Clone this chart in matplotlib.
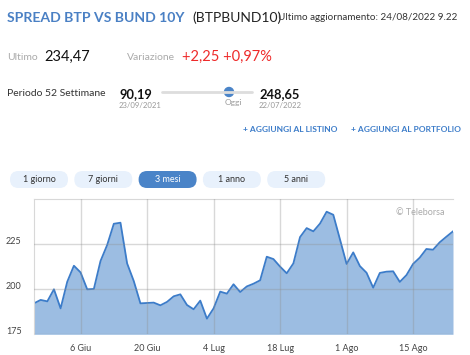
import numpy as np
import matplotlib
matplotlib.use("Agg")
import matplotlib.pyplot as plt
from matplotlib.patches import FancyBboxPatch, Circle
from matplotlib.transforms import ScaledTranslation

plt.rcParams['font.family'] = ['Lato', 'DejaVu Sans']

# spread BTP-Bund, ultimi 3 mesi (giorni lavorativi)
spread = [192.2, 194.1, 193.3, 200.0, 189.4, 204.2, 213.1, 209.4, 200.0, 200.2,
          215.7, 224.6, 236.4, 237.0, 214.4, 204.6, 192.2, 192.4, 192.6, 191.1,
          193.0, 196.1, 197.2, 191.3, 188.9, 193.7, 183.7, 189.4, 198.7, 197.6,
          202.8, 198.5, 201.6, 203.1, 205.0, 218.1, 216.8, 212.6, 208.9, 214.4,
          229.0, 234.0, 232.2, 236.5, 243.1, 241.4, 227.8, 214.1, 220.5, 212.9,
          209.2, 200.9, 209.1, 209.8, 210.0, 204.1, 207.9, 214.1, 217.6, 222.4,
          222.0, 226.1, 229.2, 232.2]
tick_pos = [7, 17, 27, 37, 47, 57]
tick_lab = ['6 Giu', '20 Giu', '4 Lug', '18 Lug', '1 Ago', '15 Ago']
y_ticks = [175, 200, 225]
periodi = ['1 giorno', '7 giorni', '3 mesi', '1 anno', '5 anni']
periodo_sel = '3 mesi'

blu = '#3c7cc9'
fig = plt.figure(figsize=(4.7, 3.55), dpi=100)

# ---- intestazione (coordinate in pixel) ----
hd = fig.add_axes([0, 0, 1, 1])
hd.set_xlim(0, 470)
hd.set_ylim(355, 0)
hd.axis('off')

hd.text(7, 18, 'SPREAD BTP VS BUND 10Y', color='#4a80c4', fontsize=10.1,
        fontweight='bold', va='center')
hd.text(192, 18, '(BTPBUND10)', color='#222222', fontsize=10, va='center')
hd.text(278, 17, 'Ultimo aggiornamento: 24/08/2022 9.22', color='#333333',
        fontsize=7.1, va='center')

hd.text(7, 58, 'Ultimo', color='#aaaaaa', fontsize=7.5, va='center')
hd.text(44, 57, '234,47', color='#111111', fontsize=10.5, va='center')
hd.text(127, 58, 'Variazione', color='#aaaaaa', fontsize=7.5, va='center')
hd.text(182, 57, '+2,25 +0,97%', color='#ee2a2a', fontsize=10.5, va='center')

hd.text(7, 93, 'Periodo 52 Settimane', color='#333333', fontsize=7.5, va='center')
hd.text(119, 94, '90,19', color='#111111', fontsize=9.3, fontweight='bold', va='center')
hd.text(119, 105, '23/09/2021', color='#999999', fontsize=5.6, va='center')
hd.plot([162, 252], [92, 92], color='#dddddd', lw=2, solid_capstyle='round')
hd.add_patch(Circle((229, 92), 4.5, color='#4a84c8'))
hd.text(233, 102, 'Oggi', color='#999999', fontsize=6, va='center', ha='center')
hd.text(259, 94, '248,65', color='#111111', fontsize=9.3, fontweight='bold', va='center')
hd.text(259, 106, '22/07/2022', color='#999999', fontsize=5.6, va='center')

hd.text(243, 130, '+ AGGIUNGI AL LISTINO', color=blu, fontsize=6.0,
        fontweight='bold', va='center')
hd.text(351, 130, '+ AGGIUNGI AL PORTFOLIO', color=blu, fontsize=6.0,
        fontweight='bold', va='center')

for i, p in enumerate(periodi):
    x0 = 10 + i * 64.3
    sel = p == periodo_sel
    hd.add_patch(FancyBboxPatch((x0, 171), 58, 17,
                                boxstyle='round,pad=0,rounding_size=8.5',
                                fc='#4a84c8' if sel else '#e8f1fc', ec='none'))
    hd.text(x0 + 29, 179.5, p, color='white' if sel else '#333333',
            fontsize=6.5, ha='center', va='center')

# ---- grafico ----
ax = fig.add_axes([34 / 470, 1 - 334.3 / 355, 419 / 470, 135 / 355])
x = np.arange(len(spread))
ax.fill_between(x, spread, 175, color='#9cbde2', lw=0)
ax.plot(x, spread, color=blu, lw=1.3)
ax.set_xlim(0, len(spread) - 1)
ax.set_ylim(175, 250)
ax.set_xticks(tick_pos)
ax.set_xticklabels(tick_lab)
ax.set_yticks(y_ticks)
ax.tick_params(length=0, labelsize=6.5, labelcolor='#444444')
ax.tick_params(axis='x', pad=7)
ax.tick_params(axis='y', pad=9)
ax.set_axisbelow(False)
ax.grid(True, color='#909090', alpha=0.35, lw=1)
for s in ['right', 'bottom']:
    ax.spines[s].set_visible(False)
for s in ['left', 'top']:
    ax.spines[s].set_color('#d8d8d8')
off = ScaledTranslation(0, 4 / 100, fig.dpi_scale_trans)
for lab in ax.get_yticklabels():
    lab.set_transform(lab.get_transform() + off)
ax.text(0.98, 0.9, '© Teleborsa', transform=ax.transAxes, color='#aaaaaa',
        fontsize=6.5, ha='right', va='center')

fig.savefig('out.png', dpi=100)
